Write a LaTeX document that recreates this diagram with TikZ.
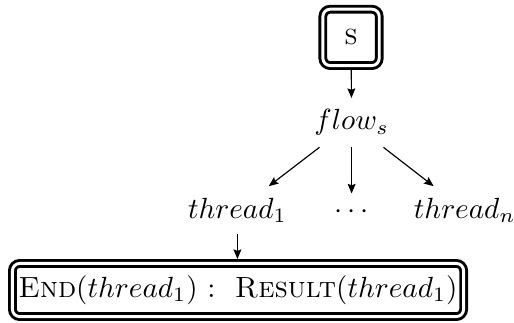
\documentclass[tikz,border=0pt]{standalone}
\usetikzlibrary{arrows.meta}
\begin{document}
\begin{tikzpicture}[x=1pt,y=-1pt,
  dbox/.style={draw, double, line width=1pt, double distance=1pt, rounded corners=2.5pt, outer sep=1.5pt},
  lbl/.style={inner sep=3.8pt, anchor=base},
  arr/.style={line width=0.4pt, -{Stealth[length=3.3pt,width=2.7pt,inset=0.5pt]}}]
\useasboundingbox (0,0) rectangle (176,110.26);
\node[dbox, minimum width=19.3pt, minimum height=19.3pt, inner sep=0pt] (s) at (120.2,12.8) {\textsc{s}};
\node[lbl] (flow) at (120.4,44.5) {$flow_s$};
\node[lbl] (t1) at (81.3,74.7) {$thread_1$};
\node[lbl] (dots) at (120.3,74.7) {$\cdots$};
\node[lbl] (tn) at (159.1,74.7) {$thread_n$};
\node[dbox, minimum width=154.5pt, minimum height=18.2pt, inner sep=0pt] (res) at (81.5,99.3)
  {\textsc{End}($thread_1$) :~~\textsc{Result}($thread_1$)};
\draw[arr] (s) -- (flow);
\draw[arr] (flow) -- (t1);
\draw[arr] (flow) -- (flow |- dots.north);
\draw[arr] (flow) -- (tn);
\draw[arr] (t1) -- (t1 |- res.north);
\end{tikzpicture}
\end{document}
